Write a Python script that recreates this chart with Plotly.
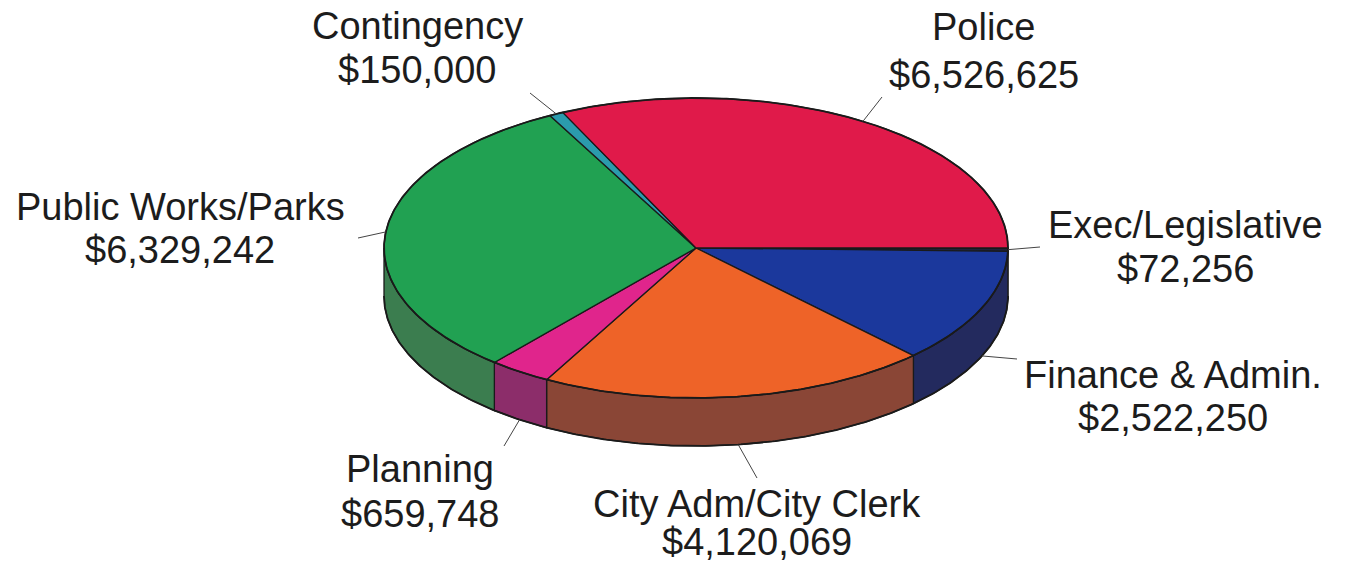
import math
import plotly.graph_objects as go

# Department budget amounts, listed clockwise starting at 3 o'clock
departments = ["Exec/Legislative", "Finance & Admin.", "City Adm/City Clerk",
               "Planning", "Public Works/Parks", "Contingency", "Police"]
amounts = [72256, 2522250, 4120069, 659748, 6329242, 150000, 6526625]

# Slice styling: top face colour and darker side-wall colour
top_colors = ["#22223a", "#1b389c", "#ee6328", "#e0258c", "#21a152", "#2b9bad", "#e01a4a"]
side_colors = ["#151528", "#232a5e", "#8a4636", "#8c2d6a", "#3b7d4f", "#1f6f7c", "#8f1430"]

# Label layout: centre x, baselines of the two text lines, and leader outer end
label_pos = {
    "Exec/Legislative": (1185, 238, 282, 1040, 247),
    "Finance & Admin.": (1173, 388, 431, 1017, 359),
    "City Adm/City Clerk": (757, 517, 560, 757, 478),
    "Planning": (420, 482, 527, 504, 446),
    "Public Works/Parks": (180, 220, 263, 358, 238),
    "Contingency": (417, 39, 83, 530, 93),
    "Police": (984, 40, 88, 882, 97),
}

# Pie geometry (in page pixels)
CX, CY = 696, 248
RX, RY = 312, 150
DEPTH = 48
FONT = "Arial, Liberation Sans, sans-serif"
FSIZE = 38
PAGE_H = 569


def pt(t_deg, dy=0.0):
    t = math.radians(t_deg)
    return CX + RX * math.cos(t), CY - RY * math.sin(t) + dy


def arc(t0, t1, dy=0.0, step=0.5):
    n = max(2, int(abs(t1 - t0) / step) + 1)
    xs, ys = [], []
    for i in range(n + 1):
        x, y = pt(t0 + (t1 - t0) * i / n, dy)
        xs.append(x)
        ys.append(y)
    return xs, ys


total = sum(amounts)
spans = []
start = 0.0
for v in amounts:
    sweep = 360.0 * v / total
    spans.append((start, start - sweep))
    start -= sweep

fig = go.Figure()

# Side walls (front half of the cylinder only)
for (t0, t1), col in zip(spans, side_colors):
    lo, hi = max(t1, -180.0), min(t0, 0.0)
    if hi <= lo:
        continue
    xs_top, ys_top = arc(hi, lo)
    xs_bot, ys_bot = arc(lo, hi, DEPTH)
    xs = xs_top + xs_bot + [xs_top[0]]
    ys = ys_top + ys_bot + [ys_top[0]]
    fig.add_trace(go.Scatter(x=xs, y=ys, mode="lines", fill="toself",
                             fillcolor=col, line=dict(color="#1a1a1a", width=1.3),
                             hoverinfo="skip", showlegend=False))

# Top faces
for (t0, t1), col in zip(spans, top_colors):
    xs_arc, ys_arc = arc(t0, t1)
    xs = [CX] + xs_arc + [CX]
    ys = [CY] + ys_arc + [CY]
    fig.add_trace(go.Scatter(x=xs, y=ys, mode="lines", fill="toself",
                             fillcolor=col, line=dict(color="#1a1a1a", width=1.3),
                             hoverinfo="skip", showlegend=False))

# Outer rim outline
xs_rim, ys_rim = arc(0, 360)
fig.add_trace(go.Scatter(x=xs_rim, y=ys_rim, mode="lines",
                         line=dict(color="#1a1a1a", width=1.8),
                         hoverinfo="skip", showlegend=False))
xs_b, ys_b = arc(-180, 0, DEPTH)
fig.add_trace(go.Scatter(x=xs_b, y=ys_b, mode="lines",
                         line=dict(color="#1a1a1a", width=1.8),
                         hoverinfo="skip", showlegend=False))

shapes = []
annotations = []
half_box = FSIZE * 0.65 + 2
for name, v, (t0, t1) in zip(departments, amounts, spans):
    mid = (t0 + t1) / 2.0
    s = math.sin(math.radians(mid))
    dy = DEPTH if s < -0.2 else 0.0
    ix, iy = pt(mid, dy)
    cx, b1, b2, ox, oy = label_pos[name]
    shapes.append(dict(type="line", xref="x", yref="y", x0=ix, y0=iy, x1=ox, y1=oy,
                       line=dict(color="#444444", width=1)))
    for text, base in ((name, b1), (f"${v:,}", b2)):
        yc = min(base - 13, PAGE_H - half_box)
        annotations.append(dict(x=cx, y=yc, xref="x", yref="y", text=text,
                                showarrow=False, xanchor="center", yanchor="middle",
                                font=dict(family=FONT, size=FSIZE, color="#1c1c1c")))

fig.update_layout(
    width=1346, height=PAGE_H,
    margin=dict(l=0, r=0, t=0, b=0),
    paper_bgcolor="white", plot_bgcolor="white",
    xaxis=dict(range=[0, 1346], visible=False, fixedrange=True),
    yaxis=dict(range=[PAGE_H, 0], visible=False, fixedrange=True),
    shapes=shapes, annotations=annotations,
)

fig.write_html("out.html")
